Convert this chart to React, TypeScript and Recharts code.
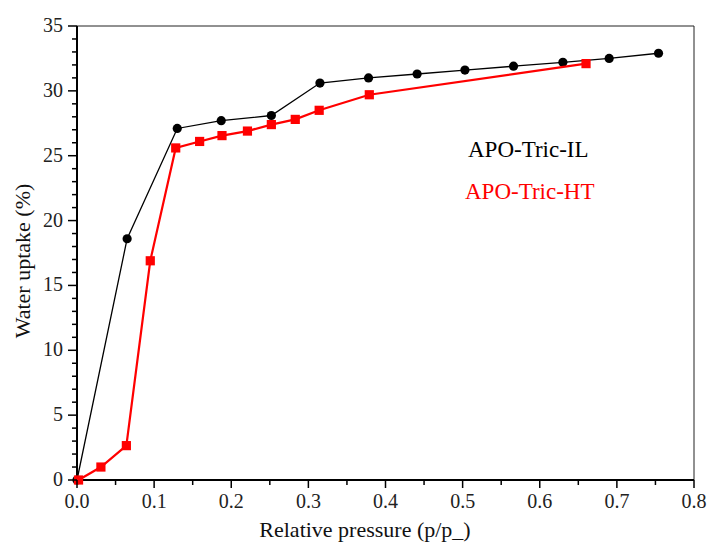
import { ScatterChart, Scatter, XAxis, YAxis, ReferenceLine } from 'recharts';

// APO-Tric-IL (black circles)
const ilPressure = [0.0, 0.065, 0.13, 0.187, 0.252, 0.315, 0.378, 0.441, 0.503, 0.566, 0.63, 0.69, 0.754];
const ilUptake = [0.0, 18.6, 27.1, 27.7, 28.1, 30.6, 31.0, 31.3, 31.6, 31.9, 32.2, 32.5, 32.9];

// APO-Tric-HT (red squares)
const htPressure = [0.002, 0.031, 0.064, 0.095, 0.128, 0.159, 0.188, 0.221, 0.252, 0.283, 0.314, 0.379, 0.66];
const htUptake = [0.0, 1.0, 2.65, 16.9, 25.6, 26.1, 26.55, 26.9, 27.4, 27.8, 28.5, 29.7, 32.1];

const xTicks = [0, 0.05, 0.1, 0.15, 0.2, 0.25, 0.3, 0.35, 0.4, 0.45, 0.5, 0.55, 0.6, 0.65, 0.7, 0.75, 0.8];
const yTicks = [0, 1, 2, 3, 4, 5, 6, 7, 8, 9, 10, 11, 12, 13, 14, 15, 16, 17, 18, 19, 20,
  21, 22, 23, 24, 25, 26, 27, 28, 29, 30, 31, 32, 33, 34, 35];

const ilData = ilPressure.map((x, i) => ({ x, y: ilUptake[i] }));
const htData = htPressure.map((x, i) => ({ x, y: htUptake[i] }));

const FONT = '"Palatino Linotype", "Book Antiqua", Palatino, "Liberation Serif", serif';

const XTick = (props: any) => {
  const { x, y, payload } = props;
  const major = Math.round(payload.value * 100) % 10 === 0;
  return (
    <g>
      <line x1={x} x2={x} y1={y} y2={y + (major ? 8 : 5)} stroke="#000" strokeWidth={1.5} />
      {major && (
        <text x={x} y={y + 28} textAnchor="middle" fontSize={20} fontFamily={FONT} fill="#222">
          {payload.value.toFixed(1)}
        </text>
      )}
    </g>
  );
};

const YTick = (props: any) => {
  const { x, y, payload } = props;
  const major = payload.value % 5 === 0;
  return (
    <g>
      <line x1={x} x2={x - (major ? 9 : 5)} y1={y} y2={y} stroke="#000" strokeWidth={1.5} />
      {major && (
        <text x={x - 14} y={y + 6} textAnchor="end" fontSize={20} fontFamily={FONT} fill="#222">
          {payload.value}
        </text>
      )}
    </g>
  );
};

const Circle = (props: any) => <circle cx={props.cx} cy={props.cy} r={4.6} fill="#000" />;
const Square = (props: any) => (
  <rect x={props.cx - 4.6} y={props.cy - 4.6} width={9.2} height={9.2} fill="#ff0000" />
);

export default function App() {
  return (
    <div style={{ position: 'absolute', left: 0, top: 0, background: '#fff' }}>
      <ScatterChart width={708} height={543} margin={{ top: 26, right: 14, left: 0, bottom: 0 }}>
        <XAxis
          type="number"
          dataKey="x"
          domain={[0, 0.8]}
          ticks={xTicks}
          interval={0}
          height={63}
          tickSize={0}
          tickMargin={0}
          tickLine={false}
          tick={<XTick />}
          axisLine={{ stroke: '#000', strokeWidth: 2 }}
        />
        <YAxis
          type="number"
          dataKey="y"
          domain={[0, 35]}
          ticks={yTicks}
          interval={0}
          width={77}
          tickSize={0}
          tickMargin={0}
          tickLine={false}
          tick={<YTick />}
          axisLine={{ stroke: '#000', strokeWidth: 2 }}
        />
        <ReferenceLine y={35} stroke="#222" strokeWidth={1} />
        <ReferenceLine x={0.8} stroke="#222" strokeWidth={1} />
        <Scatter
          name="APO-Tric-IL"
          data={ilData}
          line={{ stroke: '#000', strokeWidth: 1.3 }}
          shape={<Circle />}
          isAnimationActive={false}
        />
        <Scatter
          name="APO-Tric-HT"
          data={htData}
          line={{ stroke: '#ff0000', strokeWidth: 2.2 }}
          shape={<Square />}
          isAnimationActive={false}
        />
        {/* axis titles */}
        <text x={365} y={537} textAnchor="middle" fontSize={22} fontFamily={FONT} fill="#111">
          Relative pressure (p/p_)
        </text>
        <text
          x={30}
          y={261}
          transform="rotate(-90 30 261)"
          textAnchor="middle"
          fontSize={22}
          fontFamily={FONT}
          fill="#111"
        >
          Water uptake (%)
        </text>
        {/* series labels */}
        <text x={468} y={157} fontSize={23} fontFamily={FONT} fill="#000">APO-Tric-IL</text>
        <text x={465} y={199} fontSize={23} fontFamily={FONT} fill="#ff0000">APO-Tric-HT</text>
      </ScatterChart>
    </div>
  );
}
